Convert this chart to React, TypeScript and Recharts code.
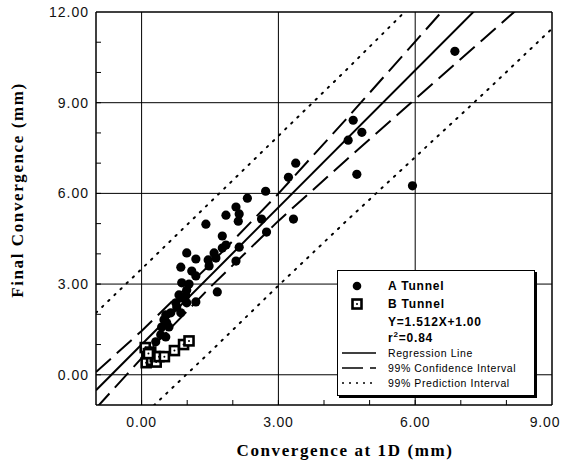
import React from "react";
import { ComposedChart, Line, ReferenceLine, Scatter, XAxis, YAxis } from "recharts";

// A Tunnel measurements (convergence at 1D, final convergence), mm
const tunnelA = [
  { x: 6.87, y: 10.7 }, { x: 4.64, y: 8.42 }, { x: 4.83, y: 8.02 }, { x: 4.53, y: 7.76 },
  { x: 4.72, y: 6.63 }, { x: 5.94, y: 6.25 }, { x: 3.38, y: 7.0 }, { x: 3.22, y: 6.53 },
  { x: 3.33, y: 5.15 }, { x: 2.72, y: 6.07 }, { x: 2.32, y: 5.84 }, { x: 2.07, y: 5.55 },
  { x: 2.14, y: 5.32 }, { x: 1.85, y: 5.28 }, { x: 2.12, y: 5.08 }, { x: 1.41, y: 4.98 },
  { x: 2.63, y: 5.15 }, { x: 2.74, y: 4.72 }, { x: 1.77, y: 4.59 }, { x: 1.85, y: 4.29 },
  { x: 1.77, y: 4.19 }, { x: 2.14, y: 4.22 }, { x: 1.59, y: 4.03 }, { x: 1.63, y: 3.86 },
  { x: 1.46, y: 3.8 }, { x: 1.48, y: 3.6 }, { x: 0.99, y: 4.03 }, { x: 1.19, y: 3.83 },
  { x: 2.07, y: 3.76 }, { x: 0.86, y: 3.56 }, { x: 1.1, y: 3.43 }, { x: 1.19, y: 3.27 },
  { x: 1.04, y: 3.0 }, { x: 1.66, y: 2.74 }, { x: 0.82, y: 2.64 }, { x: 0.97, y: 2.61 },
  { x: 1.19, y: 2.41 }, { x: 0.99, y: 2.38 }, { x: 0.86, y: 2.05 }, { x: 0.64, y: 2.05 },
  { x: 0.55, y: 1.72 }, { x: 0.44, y: 1.58 }, { x: 0.6, y: 1.58 }, { x: 0.53, y: 1.25 },
  { x: 0.31, y: 1.09 }, { x: 0.42, y: 1.32 }, { x: 0.77, y: 2.24 }, { x: 0.88, y: 2.54 },
  { x: 0.75, y: 2.38 }, { x: 0.53, y: 1.98 }, { x: 0.49, y: 1.82 }, { x: 0.99, y: 2.8 },
  { x: 0.88, y: 3.04 },
];

// B Tunnel measurements
const tunnelB = [
  { x: 0.08, y: 0.9 }, { x: 0.12, y: 0.55 }, { x: 0.1, y: 0.4 }, { x: 0.2, y: 0.75 },
  { x: 0.22, y: 0.48 }, { x: 0.3, y: 0.6 }, { x: 0.32, y: 0.42 }, { x: 0.38, y: 0.6 },
  { x: 0.5, y: 0.6 }, { x: 0.72, y: 0.8 }, { x: 0.92, y: 1.0 }, { x: 1.04, y: 1.12 },
  { x: 0.15, y: 0.7 },
];

// Y = 1.512X + 1.00
const regression = [{ x: -1, y: -0.512 }, { x: 9, y: 14.608 }];

const bandX = [-1, 0, 1.5, 3, 4.5, 6, 7.5, 9];
const confUpperY = [0.09, 1.45, 3.65, 5.99, 8.48, 11.02, 13.57, 16.1];
const confLowerY = [-1.11, 0.55, 2.89, 5.09, 7.12, 9.12, 11.11, 13.1];

const predUpperX = [-1, 0, 1.5, 3, 4.5, 6];
const predUpperY = [2.05, 3.5, 5.7, 7.9, 10.1, 12.35];
const predLowerX = [0, 1.5, 3, 4.5, 6, 7.5, 9];
const predLowerY = [-1.4, 0.75, 2.95, 5.1, 7.2, 9.3, 11.45];

const xTicks = [-1, 0, 1, 2, 3, 4, 5, 6, 7, 8, 9];
const yTicks = [-1, 0, 1, 2, 3, 4, 5, 6, 7, 8, 9, 10, 11, 12];
const xGrid = [0, 3, 6];
const yGrid = [0, 3, 6, 9];

const zip = (xs: number[], ys: number[]) => xs.map((x, i) => ({ x, y: ys[i] }));
const confUpper = zip(bandX, confUpperY);
const confLower = zip(bandX, confLowerY);
const predUpper = zip(predUpperX, predUpperY);
const predLower = zip(predLowerX, predLowerY);

const SANS = "'Liberation Sans', Arial, sans-serif";
const SERIF = "'Liberation Serif', 'Times New Roman', serif";

function XTick({ x, y, payload }: any) {
  const v = payload.value;
  // last label sits at the page edge, nudge it in
  const tx = v === 9 ? x - 7 : x;
  return (
    <g>
      {v > -1 && v < 9 && <line x1={x} y1={y} x2={x} y2={y - 5} stroke="#000" strokeWidth={1} />}
      {v % 3 === 0 && v >= 0 && (
        <text x={tx} y={y + 22} textAnchor="middle" fontFamily={SANS} fontSize={14} letterSpacing={0.8} fill="#111">
          {v.toFixed(2)}
        </text>
      )}
    </g>
  );
}

function YTick({ x, y, payload }: any) {
  const v = payload.value;
  return (
    <g>
      {v > -1 && v < 12 && <line x1={x} y1={y} x2={x + 5} y2={y} stroke="#000" strokeWidth={1} />}
      {v % 3 === 0 && v >= 0 && (
        <text x={x - 7} y={y + 5} textAnchor="end" fontFamily={SANS} fontSize={14} letterSpacing={1} fill="#111">
          {v.toFixed(2)}
        </text>
      )}
    </g>
  );
}

const Dot = (p: any) => <circle cx={p.cx} cy={p.cy} r={4.6} fill="#000" />;
const Box = (p: any) => (
  <g>
    <rect x={p.cx - 4.5} y={p.cy - 4.5} width={9} height={9} fill="#fff" stroke="#000" strokeWidth={2.6} />
    <circle cx={p.cx} cy={p.cy} r={1} fill="#000" />
  </g>
);

function LegendBox() {
  const rows = [15, 33, 51, 67, 82, 97, 112];
  return (
    <div
      style={{
        position: "absolute", left: 337, top: 270, width: 196, height: 124,
        background: "#fff", border: "1px solid #000", boxShadow: "2px 2px 0 #000",
      }}
    >
      <svg width={196} height={124} style={{ display: "block" }}>
        <circle cx={19} cy={rows[0]} r={4.3} fill="#000" />
        <rect x={14.5} y={rows[1] - 4.5} width={9} height={9} fill="#fff" stroke="#000" strokeWidth={2.6} />
        <circle cx={19} cy={rows[1]} r={1} fill="#000" />
        <g fontFamily={SANS} fontWeight="bold" fontSize={12} letterSpacing={0.8} fill="#000">
          <text x={50} y={rows[0] + 4}>A Tunnel</text>
          <text x={50} y={rows[1] + 4}>B Tunnel</text>
          <text x={50} y={rows[2] + 4}>Y=1.512X+1.00</text>
          <text x={50} y={rows[3] + 4}>
            r<tspan dy={-5} fontSize={8}>2</tspan>
            <tspan dy={5}>=0.84</tspan>
          </text>
        </g>
        <line x1={4} x2={38} y1={rows[4]} y2={rows[4]} stroke="#000" strokeWidth={1.5} />
        <line x1={4} x2={38} y1={rows[5]} y2={rows[5]} stroke="#000" strokeWidth={1.5} strokeDasharray="21 7 6" />
        <line x1={4} x2={38} y1={rows[6]} y2={rows[6]} stroke="#000" strokeWidth={1.5} strokeDasharray="2 5" />
        <g fontFamily={SANS} fontSize={10.5} letterSpacing={0.6} fill="#000">
          <text x={50} y={rows[4] + 4}>Regression Line</text>
          <text x={50} y={rows[5] + 4}>99% Confidence Interval</text>
          <text x={50} y={rows[6] + 4}>99% Prediction Interval</text>
        </g>
      </svg>
    </div>
  );
}

export default function App() {
  return (
    <div style={{ position: "absolute", left: 0, top: 0, width: 566, height: 468, background: "#fff" }}>
      <ComposedChart width={566} height={468} margin={{ top: 12, right: 14, bottom: 0, left: 0 }}>
        <XAxis
          type="number" dataKey="x" domain={[-1, 9]} ticks={xTicks} allowDataOverflow
          height={63} tickSize={0} tickMargin={0} tick={<XTick />} interval={0}
          axisLine={{ stroke: "#000", strokeWidth: 1.5 }}
        />
        <YAxis
          type="number" dataKey="y" domain={[-1, 12]} ticks={yTicks} allowDataOverflow
          width={96} tickSize={0} tickMargin={0} tick={<YTick />} interval={0}
          axisLine={{ stroke: "#000", strokeWidth: 1.5 }}
        />
        {xGrid.map((v) => (
          <ReferenceLine key={"gx" + v} x={v} stroke="#000" strokeWidth={1} />
        ))}
        {yGrid.map((v) => (
          <ReferenceLine key={"gy" + v} y={v} stroke="#000" strokeWidth={1} />
        ))}
        <ReferenceLine x={9} stroke="#000" strokeWidth={1.5} />
        <ReferenceLine y={12} stroke="#000" strokeWidth={1.5} />
        <Line data={predUpper} dataKey="y" stroke="#000" strokeWidth={2} strokeDasharray="1.5 7" strokeLinecap="round" dot={false} isAnimationActive={false} />
        <Line data={predLower} dataKey="y" stroke="#000" strokeWidth={2} strokeDasharray="1.5 7" strokeLinecap="round" dot={false} isAnimationActive={false} />
        <Line data={confUpper} dataKey="y" stroke="#000" strokeWidth={2} strokeDasharray="20 8" dot={false} isAnimationActive={false} />
        <Line data={confLower} dataKey="y" stroke="#000" strokeWidth={2} strokeDasharray="20 8" dot={false} isAnimationActive={false} />
        <Line data={regression} dataKey="y" stroke="#000" strokeWidth={2} dot={false} isAnimationActive={false} />
        <Scatter data={tunnelA} dataKey="y" shape={Dot} isAnimationActive={false} />
        <Scatter data={tunnelB} dataKey="y" shape={Box} isAnimationActive={false} />
      </ComposedChart>
      <div
        style={{
          position: "absolute", left: 8, top: 190, transform: "translate(-50%, -50%) rotate(-90deg)",
          marginLeft: 10, whiteSpace: "nowrap", fontFamily: SERIF, fontWeight: "bold", fontSize: 17, letterSpacing: 1.6,
        }}
      >
        Final Convergence (mm)
      </div>
      <div
        style={{
          position: "absolute", left: 345, top: 451, transform: "translate(-50%, -50%)",
          whiteSpace: "nowrap", fontFamily: SERIF, fontWeight: "bold", fontSize: 17, letterSpacing: 1.6,
        }}
      >
        Convergence at 1D (mm)
      </div>
      <LegendBox />
    </div>
  );
}
